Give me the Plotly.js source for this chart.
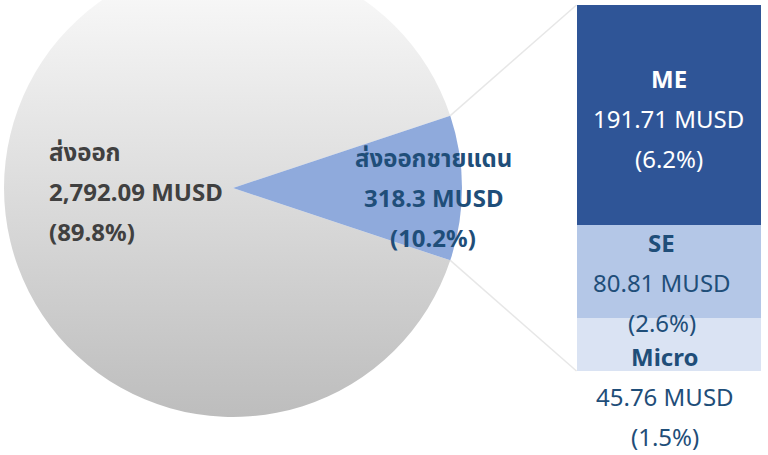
<!DOCTYPE html>
<html>
<head>
<meta charset="utf-8">
<script src="https://cdn.plot.ly/plotly-3.0.1.min.js"></script>
<style>
  html, body { margin: 0; padding: 0; width: 768px; height: 455px; overflow: hidden; background: #fff; }
  #chart { position: absolute; left: 0; top: -60px; width: 768px; height: 515px; }
</style>
</head>
<body>
<div id="chart"></div>
<script>
// ---- data ----
const pieLabels = ['ส่งออก', 'ส่งออกชายแดน'];
const pieValues = [2792.09, 318.3];
const barCategory = ['ส่งออกชายแดน'];
const segLabels = ['Micro', 'SE', 'ME'];
const segValues = [45.76, 80.81, 191.71];

// ---- style ----
const FONT = 'Noto Sans, "Noto Sans Thai", "Open Sans", "DejaVu Sans", sans-serif';
const DARKBLUE = '#1F4E79';
const GRAYTXT = '#404040';
const segColors = { 'ME': '#2F5597', 'SE': '#B4C7E7', 'Micro': '#DAE3F3' };
const segTextColor = { 'ME': '#FFFFFF', 'SE': DARKBLUE, 'Micro': DARKBLUE };
const segLabelDown = { 'ME': 3, 'SE': 11, 'Micro': 52 };   // label offsets (px, downward)
const segLabelLeft = { 'ME': 0, 'SE': 7, 'Micro': 4 };
const LINE = 40;

const W = 768, H = 515, T = 60;
const px = x => x / W;
const py = y => 1 - (y + T) / H;

const grand = pieValues.reduce((a, b) => a + b, 0);
const fmt = v => v.toLocaleString('en-US', { maximumFractionDigits: 2 });
const pct = v => (100 * v / grand).toFixed(1) + '%';

// pie geometry (page px)
const cx = 233, cy = 188, R = 229;
const blueFrac = pieValues[1] / grand;
const halfAng = Math.PI * blueFrac;   // half of blue slice angle

const traces = [{
  type: 'pie',
  labels: pieLabels,
  values: pieValues,
  sort: false,
  direction: 'clockwise',
  rotation: 90 + 180 * blueFrac,
  marker: { colors: ['#D9D9D9', '#8FAADC'], line: { width: 0 } },
  textinfo: 'none',
  hoverinfo: 'none',
  showlegend: false,
  domain: { x: [px(cx - R), px(cx + R)], y: [py(cy + R), py(cy - R)] }
}];

segLabels.forEach((s, i) => {
  traces.push({
    type: 'bar',
    x: barCategory,
    y: [segValues[i]],
    name: s,
    width: [1],
    marker: { color: segColors[s], line: { width: 0 } },
    hoverinfo: 'none',
    showlegend: false,
    xaxis: 'x', yaxis: 'y'
  });
});

const barTotal = segValues.reduce((a, b) => a + b, 0);
const barLeft = 576.5, barRight = 761, barTop = 5, barBottom = 371;

const annotations = [];
// pie labels
const grayLines = [
  { t: '<b>' + pieLabels[0] + '</b>', s: LINE },
  { t: '<b>' + fmt(pieValues[0]) + ' MUSD</b>', s: 0 },
  { t: '<b>(' + pct(pieValues[0]) + ')</b>', s: -LINE }
];
grayLines.forEach(l => annotations.push({
  xref: 'paper', yref: 'paper', x: px(47), y: py(191), xanchor: 'left', yanchor: 'middle',
  yshift: l.s, text: l.t, showarrow: false, font: { family: FONT, size: 24, color: GRAYTXT }
}));
const blueLines = [
  { t: '<b>' + pieLabels[1] + '</b>', s: LINE },
  { t: '<b>' + fmt(pieValues[1]) + ' MUSD</b>', s: 0 },
  { t: '<b>(' + pct(pieValues[1]) + ')</b>', s: -LINE }
];
blueLines.forEach(l => annotations.push({
  xref: 'paper', yref: 'paper', x: px(433), y: py(197), xanchor: 'center', yanchor: 'middle',
  yshift: l.s, text: l.t, showarrow: false, font: { family: FONT, size: 24, color: DARKBLUE }
}));

// bar labels
let base = 0;
segLabels.forEach((s, i) => {
  const mid = base + segValues[i] / 2;
  base += segValues[i];
  const off = segLabelDown[s];
  const lines = [
    { t: '<b>' + s + '</b>', s: LINE - off },
    { t: fmt(segValues[i]) + ' MUSD', s: -off },
    { t: '(' + pct(segValues[i]) + ')', s: -LINE - off }
  ];
  lines.forEach(l => annotations.push({
    xref: 'x', yref: 'y', x: barCategory[0], y: mid, xanchor: 'center', yanchor: 'middle',
    xshift: -segLabelLeft[s], yshift: l.s, text: l.t, showarrow: false,
    font: { family: FONT, size: 24, color: segTextColor[s] }
  }));
});

// connector lines from blue slice edges to the bar
const ex = cx + R * Math.cos(halfAng);
const eyTop = cy - R * Math.sin(halfAng);
const eyBot = cy + R * Math.sin(halfAng);
const shapes = [
  { type: 'line', xref: 'paper', yref: 'paper', x0: px(ex), y0: py(eyTop), x1: px(barLeft), y1: py(barTop),
    line: { color: '#E7E7E7', width: 1.5 }, layer: 'below' },
  { type: 'line', xref: 'paper', yref: 'paper', x0: px(ex), y0: py(eyBot), x1: px(barLeft), y1: py(barBottom),
    line: { color: '#E7E7E7', width: 1.5 }, layer: 'below' }
];

const layout = {
  width: W, height: H,
  margin: { l: 0, r: 0, t: 0, b: 0 },
  paper_bgcolor: '#FFFFFF', plot_bgcolor: 'rgba(0,0,0,0)',
  barmode: 'stack',
  bargap: 0,
  xaxis: { domain: [px(barLeft), px(barRight)], range: [-0.5, 0.5], visible: false, type: 'category', fixedrange: true },
  yaxis: { domain: [py(barBottom), py(barTop)], range: [0, barTotal], visible: false, fixedrange: true },
  annotations: annotations,
  shapes: shapes,
  font: { family: FONT }
};

Plotly.newPlot('chart', traces, layout, { staticPlot: true, displayModeBar: false }).then(gd => {
  // apply vertical gray gradient to the large slice
  const svg = gd.querySelector('svg.main-svg');
  const defs = svg.querySelector('defs');
  const NS = 'http://www.w3.org/2000/svg';
  const g = document.createElementNS(NS, 'linearGradient');
  g.setAttribute('id', 'pieGrayGrad');
  g.setAttribute('x1', '0'); g.setAttribute('y1', '0');
  g.setAttribute('x2', '0'); g.setAttribute('y2', '1');
  [['0', '#FCFCFC'], ['1', '#BDBDBD']].forEach(([o, c]) => {
    const st = document.createElementNS(NS, 'stop');
    st.setAttribute('offset', o); st.setAttribute('stop-color', c);
    g.appendChild(st);
  });
  defs.appendChild(g);
  const slicePath = gd.querySelector('.pielayer .slice path.surface');
  if (slicePath) slicePath.style.fill = 'url(#pieGrayGrad)';
});
</script>
</body>
</html>
